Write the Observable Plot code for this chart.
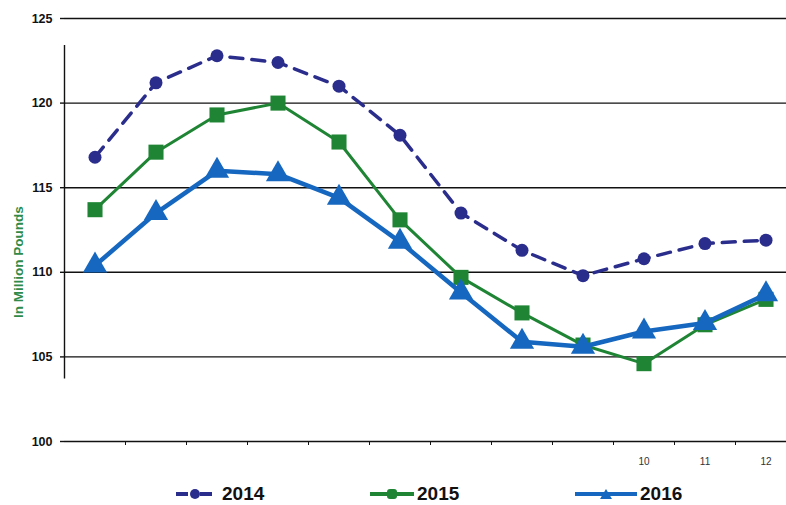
<!DOCTYPE html>
<html>
<head>
<meta charset="utf-8">
<script src="https://cdn.jsdelivr.net/npm/d3@7"></script>
<script src="https://cdn.jsdelivr.net/npm/@observablehq/plot@0.6"></script>
<style>
  html, body { margin: 0; padding: 0; background: white; }
  body { width: 786px; height: 505px; overflow: hidden; font-family: "Liberation Sans", Arial, sans-serif; }
  #chart svg { display: block; }
  #legend { position: relative; height: 35px; }
  .item { position: absolute; top: 13px; display: flex; align-items: center; font-weight: bold; font-size: 19px; color: #111; }
  .item svg { display: block; }
</style>
</head>
<body>
<div id="chart"></div>
<div id="legend"></div>
<script>
const months = [1, 2, 3, 4, 5, 6, 7, 8, 9, 10, 11, 12];
const monthLabels = [10, 11, 12];
const years = ["2014", "2015", "2016"];
const s2014 = [116.8, 121.2, 122.8, 122.4, 121.0, 118.1, 113.5, 111.3, 109.8, 110.8, 111.7, 111.9];
const s2015 = [113.7, 117.1, 119.3, 120.0, 117.7, 113.1, 109.7, 107.6, 105.7, 104.6, 106.9, 108.4];
const s2016 = [110.4, 113.5, 116.0, 115.8, 114.4, 111.8, 108.8, 105.9, 105.6, 106.5, 107.0, 108.7];
const yTicks = [100, 105, 110, 115, 120, 125];
const yLabel = "In Million Pounds";

const colors = { "2014": "#2b2d8c", "2015": "#1f8535", "2016": "#1667bf" };
const seriesOf = { "2014": s2014, "2015": s2015, "2016": s2016 };
const rows = y => months.map((m, i) => ({ month: m, value: seriesOf[y][i], year: y }));
const boundaries = months.slice(0, -1).map(m => m + 0.5);

const chart = Plot.plot({
  width: 786,
  height: 470,
  marginLeft: 64,
  marginRight: 0,
  marginTop: 18,
  marginBottom: 29,
  style: { background: "white", fontFamily: "'Liberation Sans', Arial, sans-serif", color: "#111" },
  x: { type: "linear", domain: [0.5, 12.5], range: [64, 796], axis: null },
  y: { domain: [100, 125], axis: null },
  marks: [
    Plot.ruleY(yTicks, { stroke: "#111", strokeWidth: 1.4 }),
    Plot.ruleX([0.5], { y1: 103.7, y2: 123.4, stroke: "#111", strokeWidth: 1.4 }),
    Plot.axisY(yTicks, { tickSize: 4, tickPadding: 8, fontSize: 12.5, fontWeight: "bold", label: null, strokeWidth: 1.4 }),
    Plot.axisX(boundaries, { tickSize: 4, tickFormat: () => "", label: null }),
    Plot.axisX(monthLabels, { tickSize: 0, tickPadding: 16, fontSize: 10, label: null, fill: "#333" }),
    Plot.text([yLabel], { x: 0.5, y: 110.6, dx: -46, rotate: -90, fill: "#2e8b4a", fontWeight: "bold", fontSize: 13.5 }),
    Plot.line(rows("2014"), { x: "month", y: "value", stroke: colors["2014"], strokeWidth: 3.5, strokeDasharray: "13,9" }),
    Plot.dot(rows("2014"), { x: "month", y: "value", r: 6.5, fill: colors["2014"], symbol: "circle" }),
    Plot.line(rows("2015"), { x: "month", y: "value", stroke: colors["2015"], strokeWidth: 3 }),
    Plot.dot(rows("2015"), { x: "month", y: "value", r: 8.5, fill: colors["2015"], symbol: "square" }),
    Plot.line(rows("2016"), { x: "month", y: "value", stroke: colors["2016"], strokeWidth: 4.5 }),
    Plot.dot(rows("2016"), { x: "month", y: "value", r: 9, fill: colors["2016"], symbol: "triangle" })
  ]
});
document.getElementById("chart").appendChild(chart);

// legend
const legendPos = { "2014": [176, 36, 10, "dash"], "2015": [370, 44, 3, "solid"], "2016": [575, 62, 3, "solid"] };
const legend = d3.select("#legend");
years.forEach(y => {
  const [left, w, gap, kind] = legendPos[y];
  const item = legend.append("div").attr("class", "item").style("left", left + "px");
  const svg = item.append("svg").attr("width", w).attr("height", 20).style("margin-right", gap + "px");
  const c = colors[y];
  if (kind === "dash") {
    svg.append("line").attr("x1", 0).attr("x2", 12).attr("y1", 10).attr("y2", 10).attr("stroke", c).attr("stroke-width", 4);
    svg.append("line").attr("x1", 24).attr("x2", 36).attr("y1", 10).attr("y2", 10).attr("stroke", c).attr("stroke-width", 4);
    svg.append("circle").attr("cx", 19).attr("cy", 10).attr("r", 5).attr("fill", c);
  } else if (y === "2015") {
    svg.append("line").attr("x1", 0).attr("x2", w).attr("y1", 10).attr("y2", 10).attr("stroke", c).attr("stroke-width", 4);
    svg.append("rect").attr("x", w / 2 - 5).attr("y", 5).attr("width", 10).attr("height", 10).attr("fill", c).attr("rx", 3);
  } else {
    svg.append("line").attr("x1", 0).attr("x2", w).attr("y1", 10).attr("y2", 10).attr("stroke", c).attr("stroke-width", 4);
    svg.append("path").attr("d", `M${w / 2 - 6},15 L${w / 2},5 L${w / 2 + 6},15 Z`).attr("fill", c);
  }
  item.append("span").text(y);
});
</script>
</body>
</html>
